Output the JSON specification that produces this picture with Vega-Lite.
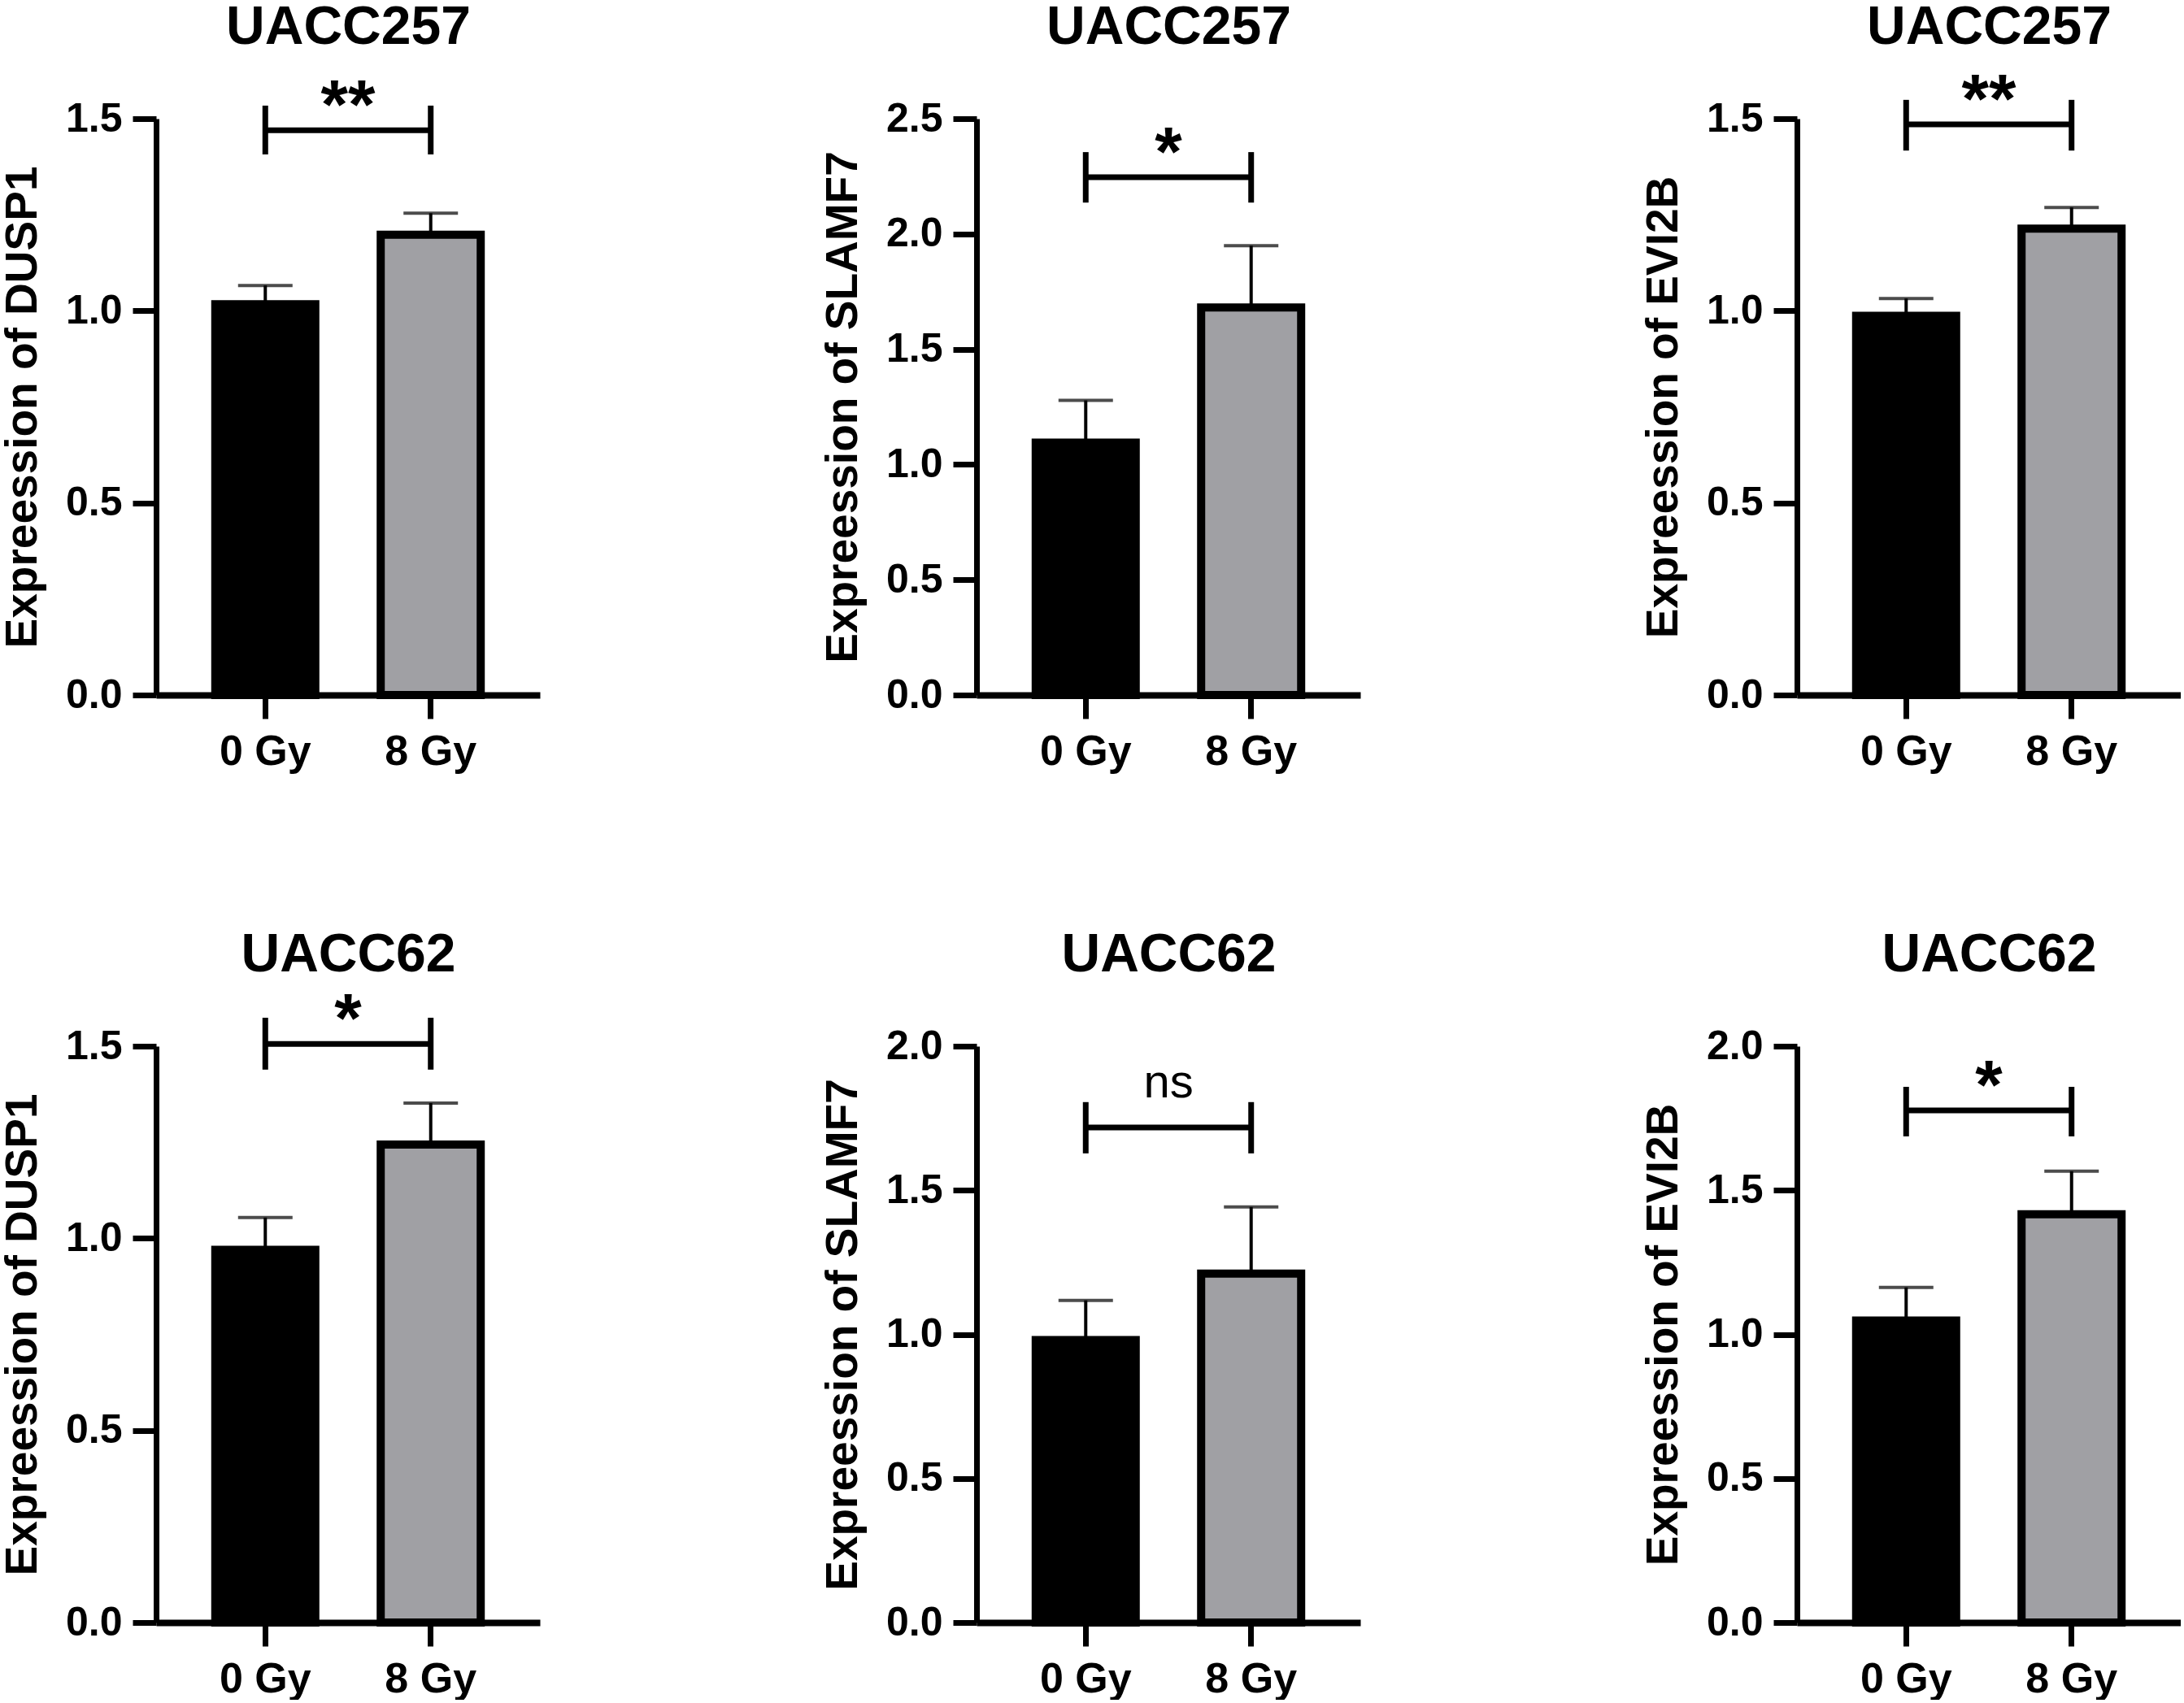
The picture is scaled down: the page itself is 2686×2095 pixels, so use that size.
{
  "$schema": "https://vega.github.io/schema/vega-lite/v6.json",
  "background": "#ffffff",
  "padding": 0,
  "datasets": {
    "expr": [
      {"panel": "p1", "group": "0 Gy", "mean": 1.017, "upper": 1.066, "bracket": 1.47, "lo": 1.407, "hi": 1.534, "label": "**"},
      {"panel": "p1", "group": "8 Gy", "mean": 1.198, "upper": 1.254, "bracket": 1.47, "lo": 1.407, "hi": 1.534},
      {"panel": "p2", "group": "0 Gy", "mean": 1.095, "upper": 1.278, "bracket": 2.246, "lo": 2.136, "hi": 2.355, "label": "*"},
      {"panel": "p2", "group": "8 Gy", "mean": 1.681, "upper": 1.949, "bracket": 2.246, "lo": 2.136, "hi": 2.355},
      {"panel": "p3", "group": "0 Gy", "mean": 0.987, "upper": 1.032, "bracket": 1.485, "lo": 1.417, "hi": 1.549, "label": "**"},
      {"panel": "p3", "group": "8 Gy", "mean": 1.214, "upper": 1.269, "bracket": 1.485, "lo": 1.417, "hi": 1.549},
      {"panel": "p4", "group": "0 Gy", "mean": 0.97, "upper": 1.054, "bracket": 1.506, "lo": 1.439, "hi": 1.574, "label": "*"},
      {"panel": "p4", "group": "8 Gy", "mean": 1.244, "upper": 1.352, "bracket": 1.506, "lo": 1.439, "hi": 1.574},
      {"panel": "p5", "group": "0 Gy", "mean": 0.98, "upper": 1.118, "bracket": 1.718, "lo": 1.628, "hi": 1.806, "label": "ns"},
      {"panel": "p5", "group": "8 Gy", "mean": 1.211, "upper": 1.442, "bracket": 1.718, "lo": 1.628, "hi": 1.806},
      {"panel": "p6", "group": "0 Gy", "mean": 1.048, "upper": 1.163, "bracket": 1.777, "lo": 1.687, "hi": 1.859, "label": "*"},
      {"panel": "p6", "group": "8 Gy", "mean": 1.417, "upper": 1.566, "bracket": 1.777, "lo": 1.687, "hi": 1.859}
    ]
  },
  "vconcat": [
    {
      "hconcat": [
        {
          "width": 472, "height": 709,
          "data": {"name": "expr"},
          "transform": [{"filter": "datum.panel === 'p1'"}],
          "resolve": {"axis": {"x": "independent"}},
          "layer": [
            {
              "mark": {"type": "bar", "width": 123, "stroke": "black", "strokeWidth": 10},
              "encoding": {
                "x": {"field": "group", "type": "nominal", "scale": {"domain": ["0 Gy", "8 Gy"], "paddingInner": 0, "paddingOuter": 0.16}, "axis": {"title": null}},
                "y": {"field": "mean", "type": "quantitative", "scale": {"domain": [0, 1.5], "nice": false}, "axis": {"title": "Expreession of DUSP1", "values": [0, 0.5, 1, 1.5], "format": ".1f"}},
                "fill": {"field": "group", "type": "nominal", "scale": {"domain": ["0 Gy", "8 Gy"], "range": ["#000000", "#a0a0a4"]}, "legend": null}
              }
            },
            {"mark": {"type": "rule", "strokeWidth": 4, "color": "black"}, "encoding": {"x": {"field": "group", "type": "nominal", "axis": null}, "y": {"field": "mean", "type": "quantitative"}, "y2": {"field": "upper"}}},
            {"mark": {"type": "tick", "orient": "horizontal", "size": 67, "thickness": 4, "color": "black"}, "encoding": {"x": {"field": "group", "type": "nominal", "axis": null}, "y": {"field": "upper", "type": "quantitative"}}},
            {"mark": {"type": "line", "strokeWidth": 7, "color": "black"}, "encoding": {"x": {"field": "group", "type": "nominal", "axis": {"orient": "top", "title": "UACC257", "labels": false, "ticks": false, "domain": false}}, "y": {"field": "bracket", "type": "quantitative"}}},
            {"mark": {"type": "rule", "strokeWidth": 7, "color": "black"}, "encoding": {"x": {"field": "group", "type": "nominal", "axis": null}, "y": {"field": "lo", "type": "quantitative"}, "y2": {"field": "hi"}}},
            {"transform": [{"filter": "isValid(datum.label)"}], "mark": {"type": "text", "fontSize": 86, "fontWeight": "bold", "baseline": "alphabetic", "dy": -2, "color": "black"}, "encoding": {"x": {"field": "group", "type": "nominal", "bandPosition": 1, "axis": null}, "y": {"field": "bracket", "type": "quantitative"}, "text": {"field": "label"}}}
          ]
        },
        {
          "width": 472, "height": 709,
          "data": {"name": "expr"},
          "transform": [{"filter": "datum.panel === 'p2'"}],
          "resolve": {"axis": {"x": "independent"}},
          "layer": [
            {
              "mark": {"type": "bar", "width": 123, "stroke": "black", "strokeWidth": 10},
              "encoding": {
                "x": {"field": "group", "type": "nominal", "scale": {"domain": ["0 Gy", "8 Gy"], "paddingInner": 0, "paddingOuter": 0.16}, "axis": {"title": null}},
                "y": {"field": "mean", "type": "quantitative", "scale": {"domain": [0, 2.5], "nice": false}, "axis": {"title": "Expreession of SLAMF7", "values": [0, 0.5, 1, 1.5, 2, 2.5], "format": ".1f"}},
                "fill": {"field": "group", "type": "nominal", "scale": {"domain": ["0 Gy", "8 Gy"], "range": ["#000000", "#a0a0a4"]}, "legend": null}
              }
            },
            {"mark": {"type": "rule", "strokeWidth": 4, "color": "black"}, "encoding": {"x": {"field": "group", "type": "nominal", "axis": null}, "y": {"field": "mean", "type": "quantitative"}, "y2": {"field": "upper"}}},
            {"mark": {"type": "tick", "orient": "horizontal", "size": 67, "thickness": 4, "color": "black"}, "encoding": {"x": {"field": "group", "type": "nominal", "axis": null}, "y": {"field": "upper", "type": "quantitative"}}},
            {"mark": {"type": "line", "strokeWidth": 7, "color": "black"}, "encoding": {"x": {"field": "group", "type": "nominal", "axis": {"orient": "top", "title": "UACC257", "labels": false, "ticks": false, "domain": false}}, "y": {"field": "bracket", "type": "quantitative"}}},
            {"mark": {"type": "rule", "strokeWidth": 7, "color": "black"}, "encoding": {"x": {"field": "group", "type": "nominal", "axis": null}, "y": {"field": "lo", "type": "quantitative"}, "y2": {"field": "hi"}}},
            {"transform": [{"filter": "isValid(datum.label)"}], "mark": {"type": "text", "fontSize": 86, "fontWeight": "bold", "baseline": "alphabetic", "dy": -2, "color": "black"}, "encoding": {"x": {"field": "group", "type": "nominal", "bandPosition": 1, "axis": null}, "y": {"field": "bracket", "type": "quantitative"}, "text": {"field": "label"}}}
          ]
        },
        {
          "width": 472, "height": 709,
          "data": {"name": "expr"},
          "transform": [{"filter": "datum.panel === 'p3'"}],
          "resolve": {"axis": {"x": "independent"}},
          "layer": [
            {
              "mark": {"type": "bar", "width": 123, "stroke": "black", "strokeWidth": 10},
              "encoding": {
                "x": {"field": "group", "type": "nominal", "scale": {"domain": ["0 Gy", "8 Gy"], "paddingInner": 0, "paddingOuter": 0.16}, "axis": {"title": null}},
                "y": {"field": "mean", "type": "quantitative", "scale": {"domain": [0, 1.5], "nice": false}, "axis": {"title": "Expreession of EVI2B", "values": [0, 0.5, 1, 1.5], "format": ".1f"}},
                "fill": {"field": "group", "type": "nominal", "scale": {"domain": ["0 Gy", "8 Gy"], "range": ["#000000", "#a0a0a4"]}, "legend": null}
              }
            },
            {"mark": {"type": "rule", "strokeWidth": 4, "color": "black"}, "encoding": {"x": {"field": "group", "type": "nominal", "axis": null}, "y": {"field": "mean", "type": "quantitative"}, "y2": {"field": "upper"}}},
            {"mark": {"type": "tick", "orient": "horizontal", "size": 67, "thickness": 4, "color": "black"}, "encoding": {"x": {"field": "group", "type": "nominal", "axis": null}, "y": {"field": "upper", "type": "quantitative"}}},
            {"mark": {"type": "line", "strokeWidth": 7, "color": "black"}, "encoding": {"x": {"field": "group", "type": "nominal", "axis": {"orient": "top", "title": "UACC257", "labels": false, "ticks": false, "domain": false}}, "y": {"field": "bracket", "type": "quantitative"}}},
            {"mark": {"type": "rule", "strokeWidth": 7, "color": "black"}, "encoding": {"x": {"field": "group", "type": "nominal", "axis": null}, "y": {"field": "lo", "type": "quantitative"}, "y2": {"field": "hi"}}},
            {"transform": [{"filter": "isValid(datum.label)"}], "mark": {"type": "text", "fontSize": 86, "fontWeight": "bold", "baseline": "alphabetic", "dy": -2, "color": "black"}, "encoding": {"x": {"field": "group", "type": "nominal", "bandPosition": 1, "axis": null}, "y": {"field": "bracket", "type": "quantitative"}, "text": {"field": "label"}}}
          ]
        }
      ]
    },
    {
      "hconcat": [
        {
          "width": 472, "height": 709,
          "data": {"name": "expr"},
          "transform": [{"filter": "datum.panel === 'p4'"}],
          "resolve": {"axis": {"x": "independent"}},
          "layer": [
            {
              "mark": {"type": "bar", "width": 123, "stroke": "black", "strokeWidth": 10},
              "encoding": {
                "x": {"field": "group", "type": "nominal", "scale": {"domain": ["0 Gy", "8 Gy"], "paddingInner": 0, "paddingOuter": 0.16}, "axis": {"title": null}},
                "y": {"field": "mean", "type": "quantitative", "scale": {"domain": [0, 1.5], "nice": false}, "axis": {"title": "Expreession of DUSP1", "values": [0, 0.5, 1, 1.5], "format": ".1f"}},
                "fill": {"field": "group", "type": "nominal", "scale": {"domain": ["0 Gy", "8 Gy"], "range": ["#000000", "#a0a0a4"]}, "legend": null}
              }
            },
            {"mark": {"type": "rule", "strokeWidth": 4, "color": "black"}, "encoding": {"x": {"field": "group", "type": "nominal", "axis": null}, "y": {"field": "mean", "type": "quantitative"}, "y2": {"field": "upper"}}},
            {"mark": {"type": "tick", "orient": "horizontal", "size": 67, "thickness": 4, "color": "black"}, "encoding": {"x": {"field": "group", "type": "nominal", "axis": null}, "y": {"field": "upper", "type": "quantitative"}}},
            {"mark": {"type": "line", "strokeWidth": 7, "color": "black"}, "encoding": {"x": {"field": "group", "type": "nominal", "axis": {"orient": "top", "title": "UACC62", "labels": false, "ticks": false, "domain": false}}, "y": {"field": "bracket", "type": "quantitative"}}},
            {"mark": {"type": "rule", "strokeWidth": 7, "color": "black"}, "encoding": {"x": {"field": "group", "type": "nominal", "axis": null}, "y": {"field": "lo", "type": "quantitative"}, "y2": {"field": "hi"}}},
            {"transform": [{"filter": "isValid(datum.label)"}], "mark": {"type": "text", "fontSize": 86, "fontWeight": "bold", "baseline": "alphabetic", "dy": -2, "color": "black"}, "encoding": {"x": {"field": "group", "type": "nominal", "bandPosition": 1, "axis": null}, "y": {"field": "bracket", "type": "quantitative"}, "text": {"field": "label"}}}
          ]
        },
        {
          "width": 472, "height": 709,
          "data": {"name": "expr"},
          "transform": [{"filter": "datum.panel === 'p5'"}],
          "resolve": {"axis": {"x": "independent"}},
          "layer": [
            {
              "mark": {"type": "bar", "width": 123, "stroke": "black", "strokeWidth": 10},
              "encoding": {
                "x": {"field": "group", "type": "nominal", "scale": {"domain": ["0 Gy", "8 Gy"], "paddingInner": 0, "paddingOuter": 0.16}, "axis": {"title": null}},
                "y": {"field": "mean", "type": "quantitative", "scale": {"domain": [0, 2], "nice": false}, "axis": {"title": "Expreession of SLAMF7", "values": [0, 0.5, 1, 1.5, 2], "format": ".1f"}},
                "fill": {"field": "group", "type": "nominal", "scale": {"domain": ["0 Gy", "8 Gy"], "range": ["#000000", "#a0a0a4"]}, "legend": null}
              }
            },
            {"mark": {"type": "rule", "strokeWidth": 4, "color": "black"}, "encoding": {"x": {"field": "group", "type": "nominal", "axis": null}, "y": {"field": "mean", "type": "quantitative"}, "y2": {"field": "upper"}}},
            {"mark": {"type": "tick", "orient": "horizontal", "size": 67, "thickness": 4, "color": "black"}, "encoding": {"x": {"field": "group", "type": "nominal", "axis": null}, "y": {"field": "upper", "type": "quantitative"}}},
            {"mark": {"type": "line", "strokeWidth": 7, "color": "black"}, "encoding": {"x": {"field": "group", "type": "nominal", "axis": {"orient": "top", "title": "UACC62", "labels": false, "ticks": false, "domain": false}}, "y": {"field": "bracket", "type": "quantitative"}}},
            {"mark": {"type": "rule", "strokeWidth": 7, "color": "black"}, "encoding": {"x": {"field": "group", "type": "nominal", "axis": null}, "y": {"field": "lo", "type": "quantitative"}, "y2": {"field": "hi"}}},
            {"transform": [{"filter": "isValid(datum.label)"}], "mark": {"type": "text", "fontSize": 58, "fontWeight": "normal", "baseline": "alphabetic", "dy": -37, "color": "black"}, "encoding": {"x": {"field": "group", "type": "nominal", "bandPosition": 1, "axis": null}, "y": {"field": "bracket", "type": "quantitative"}, "text": {"field": "label"}}}
          ]
        },
        {
          "width": 472, "height": 709,
          "data": {"name": "expr"},
          "transform": [{"filter": "datum.panel === 'p6'"}],
          "resolve": {"axis": {"x": "independent"}},
          "layer": [
            {
              "mark": {"type": "bar", "width": 123, "stroke": "black", "strokeWidth": 10},
              "encoding": {
                "x": {"field": "group", "type": "nominal", "scale": {"domain": ["0 Gy", "8 Gy"], "paddingInner": 0, "paddingOuter": 0.16}, "axis": {"title": null}},
                "y": {"field": "mean", "type": "quantitative", "scale": {"domain": [0, 2], "nice": false}, "axis": {"title": "Expreession of EVI2B", "values": [0, 0.5, 1, 1.5, 2], "format": ".1f"}},
                "fill": {"field": "group", "type": "nominal", "scale": {"domain": ["0 Gy", "8 Gy"], "range": ["#000000", "#a0a0a4"]}, "legend": null}
              }
            },
            {"mark": {"type": "rule", "strokeWidth": 4, "color": "black"}, "encoding": {"x": {"field": "group", "type": "nominal", "axis": null}, "y": {"field": "mean", "type": "quantitative"}, "y2": {"field": "upper"}}},
            {"mark": {"type": "tick", "orient": "horizontal", "size": 67, "thickness": 4, "color": "black"}, "encoding": {"x": {"field": "group", "type": "nominal", "axis": null}, "y": {"field": "upper", "type": "quantitative"}}},
            {"mark": {"type": "line", "strokeWidth": 7, "color": "black"}, "encoding": {"x": {"field": "group", "type": "nominal", "axis": {"orient": "top", "title": "UACC62", "labels": false, "ticks": false, "domain": false}}, "y": {"field": "bracket", "type": "quantitative"}}},
            {"mark": {"type": "rule", "strokeWidth": 7, "color": "black"}, "encoding": {"x": {"field": "group", "type": "nominal", "axis": null}, "y": {"field": "lo", "type": "quantitative"}, "y2": {"field": "hi"}}},
            {"transform": [{"filter": "isValid(datum.label)"}], "mark": {"type": "text", "fontSize": 86, "fontWeight": "bold", "baseline": "alphabetic", "dy": -2, "color": "black"}, "encoding": {"x": {"field": "group", "type": "nominal", "bandPosition": 1, "axis": null}, "y": {"field": "bracket", "type": "quantitative"}, "text": {"field": "label"}}}
          ]
        }
      ]
    }
  ],
  "spacing": 191,
  "config": {
    "font": "Liberation Sans",
    "view": {"stroke": null},
    "concat": {"spacing": 345},
    "axis": {
      "grid": false,
      "domainColor": "black",
      "tickColor": "black",
      "labelColor": "black",
      "titleColor": "black",
      "labelFont": "Liberation Sans",
      "titleFont": "Liberation Sans",
      "labelFontWeight": "bold",
      "titleFontWeight": "bold",
      "tickSize": 29,
      "tickWidth": 7,
      "domainWidth": 7
    },
    "axisX": {"labelFontSize": 52, "labelPadding": 15, "labelAngle": 0, "domainWidth": 8},
    "axisTop": {"titleFontSize": 66, "titleBaseline": "alphabetic", "titlePadding": 93},
    "axisY": {"labelFontSize": 50, "labelPadding": 13, "titleFontSize": 55, "titlePadding": 24}
  }
}
